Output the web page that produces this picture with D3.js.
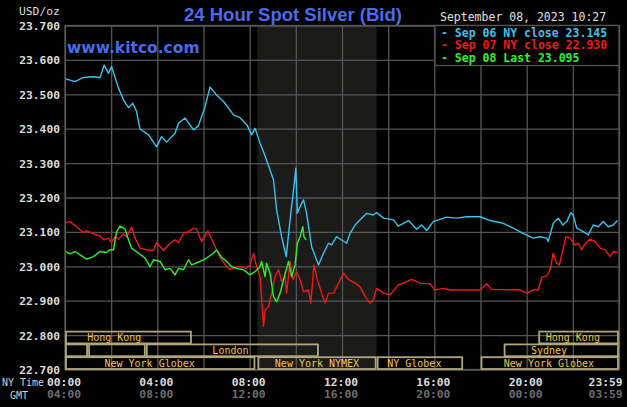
<!DOCTYPE html>
<html>
<head>
<meta charset="utf-8">
<script src="https://cdn.jsdelivr.net/npm/d3@7"></script>
<style>
  body { margin: 0; background: #000; }
  svg { display: block; }
</style>
</head>
<body>
<div id="chart"></div>
<script>
// minutes after 00:00 NY time, price in USD/oz
const sep06Times = [2, 26, 48, 74, 91, 102, 113, 121, 139, 152, 165, 176, 186, 195, 217, 238, 251, 264, 286, 295, 312, 334, 347, 364, 377, 394, 412, 425, 438, 455, 473, 485, 494, 507, 516, 533, 542, 550, 563, 575, 585, 594, 600, 604, 611, 620, 628, 641, 659, 672, 685, 693, 706, 732, 741, 754, 767, 784, 801, 810, 828, 854, 866, 893, 914, 927, 940, 957, 992, 1018, 1044, 1079, 1105, 1139, 1165, 1191, 1217, 1235, 1252, 1256, 1269, 1282, 1294, 1304, 1315, 1321, 1330, 1347, 1360, 1373, 1386, 1399, 1412, 1425, 1436];
const sep06Values = [23.545, 23.537, 23.549, 23.551, 23.549, 23.585, 23.561, 23.581, 23.518, 23.484, 23.461, 23.474, 23.450, 23.399, 23.382, 23.348, 23.377, 23.361, 23.387, 23.416, 23.431, 23.397, 23.409, 23.464, 23.521, 23.498, 23.479, 23.460, 23.440, 23.432, 23.411, 23.382, 23.401, 23.358, 23.333, 23.280, 23.251, 23.164, 23.086, 23.028, 23.135, 23.222, 23.285, 23.154, 23.174, 23.193, 23.154, 23.057, 23.004, 23.038, 23.067, 23.062, 23.086, 23.067, 23.096, 23.120, 23.135, 23.154, 23.149, 23.156, 23.140, 23.135, 23.117, 23.133, 23.108, 23.120, 23.104, 23.130, 23.143, 23.140, 23.144, 23.144, 23.133, 23.125, 23.111, 23.096, 23.082, 23.086, 23.082, 23.072, 23.125, 23.140, 23.120, 23.130, 23.156, 23.149, 23.111, 23.101, 23.091, 23.120, 23.115, 23.130, 23.115, 23.120, 23.133];

const sep07Times = [2, 13, 30, 48, 56, 74, 91, 100, 113, 121, 130, 139, 152, 160, 173, 182, 195, 212, 230, 238, 256, 273, 286, 295, 308, 321, 334, 342, 355, 371, 386, 403, 420, 429, 446, 459, 472, 481, 490, 498, 507, 511, 516, 520, 529, 537, 546, 555, 563, 572, 576, 585, 592, 602, 611, 620, 633, 639, 647, 656, 667, 676, 685, 698, 711, 724, 737, 754, 767, 780, 793, 801, 810, 828, 845, 866, 879, 901, 923, 949, 962, 983, 1001, 1079, 1096, 1109, 1183, 1200, 1222, 1230, 1239, 1252, 1261, 1269, 1278, 1285, 1302, 1313, 1326, 1334, 1343, 1352, 1365, 1378, 1391, 1404, 1417, 1425, 1436];
const sep07Values = [23.127, 23.130, 23.115, 23.098, 23.104, 23.094, 23.088, 23.077, 23.082, 23.069, 23.086, 23.079, 23.094, 23.086, 23.114, 23.082, 23.053, 23.048, 23.046, 23.069, 23.046, 23.067, 23.077, 23.069, 23.096, 23.101, 23.111, 23.108, 23.072, 23.103, 23.067, 23.026, 22.999, 22.990, 22.999, 22.999, 22.994, 23.004, 23.038, 22.999, 22.970, 22.912, 22.825, 22.873, 22.883, 22.922, 22.970, 22.990, 22.956, 22.970, 22.922, 23.014, 22.961, 22.985, 22.961, 22.926, 22.931, 22.893, 23.004, 22.961, 22.922, 22.893, 22.922, 22.922, 22.951, 22.980, 22.961, 22.951, 22.941, 22.912, 22.893, 22.902, 22.936, 22.922, 22.917, 22.946, 22.951, 22.962, 22.951, 22.949, 22.931, 22.936, 22.931, 22.931, 22.949, 22.933, 22.931, 22.922, 22.933, 22.931, 22.968, 22.972, 22.990, 23.038, 23.009, 23.004, 23.086, 23.082, 23.062, 23.067, 23.048, 23.065, 23.079, 23.072, 23.053, 23.048, 23.028, 23.043, 23.040];

const sep08Times = [2, 13, 26, 39, 56, 74, 91, 108, 117, 126, 134, 143, 156, 165, 173, 191, 208, 221, 230, 247, 260, 273, 286, 295, 308, 321, 329, 351, 368, 386, 394, 407, 420, 433, 446, 464, 481, 494, 507, 511, 520, 524, 533, 542, 550, 559, 568, 581, 589, 598, 604, 611, 618, 621, 627];
const sep08Values = [23.043, 23.036, 23.043, 23.033, 23.021, 23.028, 23.043, 23.040, 23.048, 23.048, 23.101, 23.117, 23.108, 23.077, 23.053, 23.038, 23.024, 22.999, 23.019, 23.014, 22.990, 22.994, 22.975, 22.994, 22.990, 23.019, 23.004, 23.014, 23.024, 23.038, 23.048, 23.026, 23.014, 22.999, 22.994, 22.990, 22.975, 22.985, 22.999, 23.014, 22.970, 23.009, 22.980, 22.912, 22.897, 22.922, 22.961, 23.014, 22.970, 23.004, 23.067, 23.086, 23.115, 23.086, 23.077];

const seriesNames = ["Sep 06 NY close 23.145", "Sep 07 NY close 22.930", "Sep 08 Last 23.095"];

const yTicks = [22.7, 22.8, 22.9, 23.0, 23.1, 23.2, 23.3, 23.4, 23.5, 23.6, 23.7];
const xTicks = [0, 240, 480, 720, 960, 1200, 1439];
const nyLabels = ["00:00", "04:00", "08:00", "12:00", "16:00", "20:00", "23:59"];
const gmtLabels = ["04:00", "08:00", "12:00", "16:00", "20:00", "00:00", "03:59"];

// trading sessions: row 0 = top, start/end in minutes
const sessionNames = ["Hong Kong", "", "", "London", "New York Globex", "New York NYMEX", "NY Globex", "New York Globex", "Sydney", "Hong Kong"];
const sessionRows = [0, 1, 1, 1, 2, 2, 2, 2, 1, 0];
const sessionStart = [0, 0, 60, 210, 0, 500, 810, 1080, 1140, 1230];
const sessionEnd = [330, 60, 210, 660, 495, 810, 1035, 1440, 1440, 1440];
const sessionLabelAt = [128, 0, 0, 430, 220, 655, 908, 1258, 1258, 1320];

const nymexOpen = 500;
const nymexClose = 810;

const w = 627;
const h = 407;
const plotLeft = 65;
const plotRight = 619;
const plotTop = 25.5;
const plotBottom = 369.5;
const mono = "'DejaVu Sans Mono', monospace";

const xScale = d3.scaleLinear().domain([0, 1440]).range([plotLeft, plotRight]);
const yScale = d3.scaleLinear().domain([22.7, 23.7]).range([plotBottom, plotTop]);

const svg = d3
  .select("#chart")
  .append("svg")
  .attr("width", w)
  .attr("height", h)
  .style("background", "#000");

svg.append("defs")
  .append("clipPath")
  .attr("id", "plot-clip")
  .append("rect")
  .attr("x", plotLeft)
  .attr("y", plotTop)
  .attr("width", plotRight - plotLeft)
  .attr("height", plotBottom - plotTop);

// NYMEX shading
svg.append("rect")
  .attr("x", xScale(nymexOpen))
  .attr("y", plotTop)
  .attr("width", xScale(nymexClose) - xScale(nymexOpen))
  .attr("height", plotBottom - plotTop)
  .attr("fill", "#1b1b19");

// Grid lines
const gridColor = "#565656";
svg.append("g")
  .attr("transform", `translate(${plotLeft}, 0)`)
  .call(d3.axisLeft(yScale).tickValues(yTicks).tickSize(-(plotRight - plotLeft)).tickFormat(""))
  .call((g) => g.select(".domain").remove())
  .call((g) => g.selectAll("line").attr("stroke", gridColor).attr("stroke-width", 1.3));

svg.append("g")
  .attr("transform", `translate(0, ${plotBottom})`)
  .call(d3.axisBottom(xScale).tickValues(d3.range(0, 1441, 120)).tickSize(-(plotBottom - plotTop)).tickFormat(""))
  .call((g) => g.select(".domain").remove())
  .call((g) => g.selectAll("line").attr("stroke", gridColor).attr("stroke-width", 1.3));

svg.append("rect")
  .attr("x", plotLeft)
  .attr("y", plotTop)
  .attr("width", plotRight - plotLeft)
  .attr("height", plotBottom - plotTop)
  .attr("fill", "none")
  .attr("stroke", gridColor)
  .attr("stroke-width", 1.3);

// Sessions
const rowH = (plotBottom - plotTop) / 10 * 0.372;
const sessions = sessionNames.map((name, i) => ({
  name: name,
  row: sessionRows[i],
  start: sessionStart[i],
  end: sessionEnd[i],
  labelAt: sessionLabelAt[i]
}));
const sessG = svg.append("g");
sessG.selectAll("rect")
  .data(sessions)
  .enter()
  .append("rect")
  .attr("x", (d) => xScale(d.start) + 1)
  .attr("y", (d) => plotBottom - (3 - d.row) * rowH + 0.5)
  .attr("width", (d) => xScale(d.end) - xScale(d.start) - 2)
  .attr("height", rowH - 1)
  .attr("fill", "none")
  .attr("stroke", "#aea67c")
  .attr("stroke-width", 1.8);
sessG.selectAll("text")
  .data(sessions.filter((d) => d.name !== ""))
  .enter()
  .append("text")
  .attr("x", (d) => xScale(d.labelAt))
  .attr("y", (d) => plotBottom - (2 - d.row) * rowH - 2.8)
  .attr("text-anchor", "middle")
  .attr("fill", "#f2c64a")
  .style("font-family", mono)
  .style("font-size", "10px")
  .text((d) => d.name);

// Lines
const line = d3.line().x((d) => xScale(d[0])).y((d) => yScale(d[1]));
const seriesData = [
  d3.zip(sep06Times, sep06Values),
  d3.zip(sep07Times, sep07Values),
  d3.zip(sep08Times, sep08Values)
];
const seriesColors = ["#39c3ec", "#f01818", "#2ef02e"];
svg.append("g")
  .attr("clip-path", "url(#plot-clip)")
  .selectAll("path")
  .data(seriesData)
  .enter()
  .append("path")
  .attr("d", line)
  .attr("fill", "none")
  .attr("stroke", (d, i) => seriesColors[i])
  .attr("stroke-width", 1.4)
  .attr("stroke-linejoin", "round");

// Y axis labels
svg.append("g")
  .attr("transform", `translate(${plotLeft}, 0)`)
  .call(d3.axisLeft(yScale).tickValues(yTicks).tickSize(0).tickPadding(5).tickFormat(d3.format(".3f")))
  .call((g) => g.select(".domain").remove())
  .call((g) => g.selectAll("text")
    .attr("fill", "#dcdcdc")
    .attr("dy", "0.36em")
    .style("font-family", mono)
    .style("font-size", "11.3px")
    .style("font-weight", "bold"));

svg.append("text")
  .attr("x", 19)
  .attr("y", 15)
  .attr("fill", "#dcdcdc")
  .style("font-family", mono)
  .style("font-size", "11.3px")
  .text("USD/oz");

// X axis labels: NY time and GMT
svg.append("g")
  .attr("class", "x-ny")
  .attr("transform", `translate(-1.5, ${plotBottom})`)
  .call(d3.axisBottom(xScale).tickValues(xTicks).tickSize(0).tickPadding(8).tickFormat((d, i) => nyLabels[i]))
  .call((g) => g.select(".domain").remove())
  .call((g) => g.selectAll("text")
    .attr("fill", "#dcdcdc")
    .style("font-family", mono)
    .style("font-size", "11.3px")
    .style("font-weight", "bold"));

svg.append("g")
  .attr("class", "x-gmt")
  .attr("transform", `translate(-1.5, ${plotBottom + 12.5})`)
  .call(d3.axisBottom(xScale).tickValues(xTicks).tickSize(0).tickPadding(8).tickFormat((d, i) => gmtLabels[i]))
  .call((g) => g.select(".domain").remove())
  .call((g) => g.selectAll("text")
    .attr("fill", "#6e6e6e")
    .style("font-family", mono)
    .style("font-size", "11.3px")
    .style("font-weight", "bold"));

svg.selectAll(".x-ny g.tick, .x-gmt g.tick")
  .filter((d) => d === 1439)
  .select("text")
  .attr("text-anchor", "end")
  .attr("dx", "5px");

svg.append("text")
  .attr("x", 2)
  .attr("y", 386)
  .attr("fill", "#cfcfcf")
  .style("font-family", mono)
  .style("font-size", "10px")
  .text("NY Time");

svg.append("text")
  .attr("x", 10)
  .attr("y", 399)
  .attr("fill", "#cfcfcf")
  .style("font-family", mono)
  .style("font-size", "10px")
  .text("GMT");

// Titles
svg.append("text")
  .attr("x", 293)
  .attr("y", 21)
  .attr("text-anchor", "middle")
  .attr("fill", "#4a6cec")
  .style("font-family", "'Liberation Sans', Arial, sans-serif")
  .style("font-size", "18.5px")
  .style("font-weight", "bold")
  .text("24 Hour Spot Silver (Bid)");

svg.append("text")
  .attr("x", 67)
  .attr("y", 53)
  .attr("fill", "#4a6cec")
  .style("font-family", "'DejaVu Sans', sans-serif")
  .style("font-size", "15.5px")
  .style("font-weight", "bold")
  .text("www.kitco.com");

svg.append("text")
  .attr("x", 440)
  .attr("y", 21)
  .attr("fill", "#e0e0e0")
  .style("font-family", mono)
  .style("font-size", "11.5px")
  .text("September 08, 2023 10:27");

// Legend
svg.append("rect")
  .attr("x", 435)
  .attr("y", plotTop)
  .attr("width", plotRight - 435)
  .attr("height", 40)
  .attr("fill", "#000")
  .attr("stroke", gridColor)
  .attr("stroke-width", 1.3);

svg.append("g")
  .selectAll("text")
  .data(seriesNames)
  .enter()
  .append("text")
  .attr("x", 441)
  .attr("y", (d, i) => 36.5 + i * 12.5)
  .attr("fill", (d, i) => seriesColors[i])
  .style("font-family", mono)
  .style("font-size", "11.5px")
  .style("font-weight", "bold")
  .text((d) => "-\u00a0" + d);
</script>
</body>
</html>
